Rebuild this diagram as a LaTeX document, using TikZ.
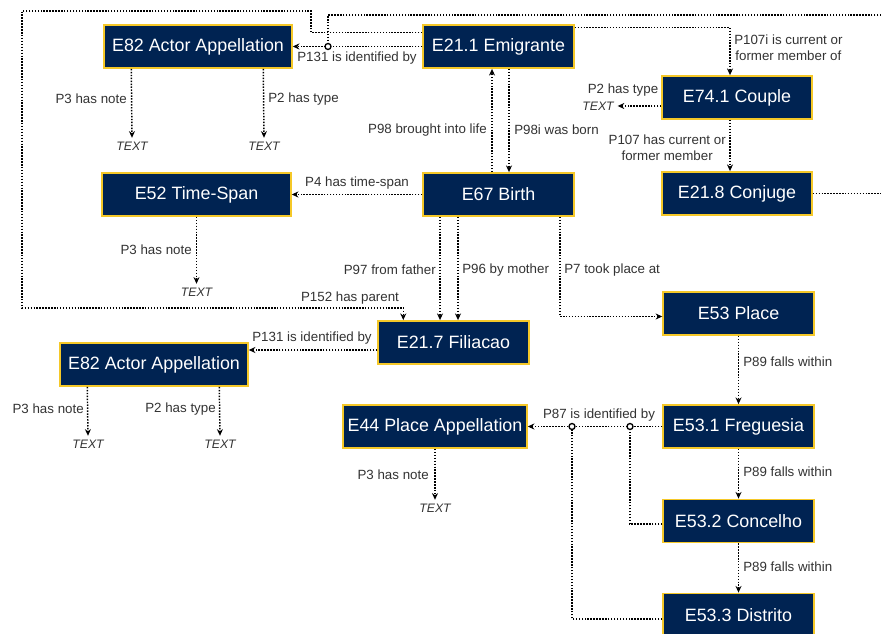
\documentclass[tikz,border=0pt]{standalone}
\usepackage{fontspec}
\setmainfont{Liberation Sans}
\usetikzlibrary{arrows.meta,calc}
\definecolor{navy}{RGB}{0,35,82}
\definecolor{gold}{RGB}{245,200,40}
\definecolor{lbl}{RGB}{51,51,51}
\begin{document}
\begin{tikzpicture}[x=0.75pt,y=-0.75pt,
  box/.style={draw=gold,fill=navy,text=white,line width=1.1pt,inner sep=0pt,minimum height=32.5pt,font=\fontsize{13.4}{15}\selectfont},
  rel/.style={line width=1.1pt,dash pattern=on 1.1pt off 1.1pt,-{Stealth[length=5pt,width=4.5pt]}},
  plainrel/.style={line width=1.1pt,dash pattern=on 1.1pt off 1.1pt},
  lab/.style={text=lbl,font=\fontsize{10}{12}\selectfont,inner sep=0pt},
  txt/.style={text=lbl,font=\itshape\fontsize{9.2}{11}\selectfont,inner sep=1pt,outer sep=2pt},
  junc/.style={circle,draw,fill=white,line width=1pt,inner sep=0pt,minimum size=4.5pt}]
\fill[white] (0,0) rectangle (881,634);
\useasboundingbox (0,0) rectangle (881,634);

% boxes
\node[box,minimum width=141pt] (a82t) at (198,46.5) {E82 Actor Appellation};
\node[box,minimum width=113.25pt] (emi) at (498.5,46.5) {E21.1 Emigrante};
\node[box,minimum width=112.5pt] (couple) at (737,97.5) {E74.1 Couple};
\node[box,minimum width=112.5pt] (conj) at (737,193.5) {E21.8 Conjuge};
\node[box,minimum width=113.25pt] (birth) at (498.5,194.5) {E67 Birth};
\node[box,minimum width=141.75pt] (ts) at (196.5,194.5) {E52 Time-Span};
\node[box,minimum width=113.25pt] (fil) at (453.5,342.5) {E21.7 Filiacao};
\node[box,minimum width=113.25pt] (place) at (738.5,313.5) {E53 Place};
\node[box,minimum width=141pt] (a82b) at (154,364.5) {E82 Actor Appellation};
\node[box,minimum width=138pt] (e44) at (435,426.5) {E44 Place Appellation};
\node[box,minimum width=113.25pt] (freg) at (738.5,426.5) {E53.1 Freguesia};
\node[box,minimum width=113.25pt] (conc) at (738.5,521) {E53.2 Concelho};
\node[box,minimum width=113.25pt] (dist) at (738.5,615) {E53.3 Distrito};

% literal values
\node[txt] (t1) at (132,146) {TEXT};
\node[txt] (t2) at (264,146) {TEXT};
\node[txt] (t3) at (598,106) {TEXT};
\node[txt] (t4) at (196.5,292) {TEXT};
\node[txt] (t5) at (88,444) {TEXT};
\node[txt] (t6) at (220,444) {TEXT};
\node[txt] (t7) at (435,508) {TEXT};

% junction points
\coordinate (j1) at (328,46.5);
\coordinate (j2) at (572,426.5);
\coordinate (j3) at (630,426.5);
\coordinate (pf) at ($(fil.west)+(0,7.5)$);

% connectors
\draw[rel] (emi.west) -- (a82t.east);
\draw[rel] ($(emi.north west)+(0,8.5)$) -| (311,11) -| (22,308) -| ($(fil.north west)+(26,0)$);
\draw[plainrel] (conj.east) -| (900,15) -| (j1);
\draw[rel] ($(emi.north east)+(0,3.5)$) -| ($(couple.north)+(-7,0)$);
\draw[rel] ($(couple.west)+(0,8.5)$) -- (t3.east);
\draw[rel] ($(couple.south)+(-7,0)$) -- ($(conj.north)+(-7,0)$);
\draw[rel] ($(birth.north)+(-6.5,0)$) -- ($(emi.south)+(-6.5,0)$);
\draw[rel] ($(emi.south)+(10.5,0)$) -- ($(birth.north)+(10.5,0)$);
\draw[rel] (birth.west) -- (ts.east);
\draw[rel] (ts.south) -- (t4.north);
\draw[rel] ($(birth.south)+(-58.5,0)$) -- ($(fil.north)+(-13.5,0)$);
\draw[rel] ($(birth.south)+(-40.5,0)$) -- ($(fil.north)+(4.5,0)$);
\draw[rel] ($(birth.south)+(61.5,0)$) |- ($(place.west)+(0,3)$);
\draw[rel] (place.south) -- (freg.north);
\draw[rel] (freg.south) -- (conc.north);
\draw[rel] (conc.south) -- (dist.north);
\draw[rel] (freg.west) -- (e44.east);
\draw[plainrel] ($(conc.west)+(0,3)$) -| (j3);
\draw[plainrel] ($(dist.west)+(0,4)$) -| (j2);
\draw[rel] (pf) -- (a82b.east |- pf);
\draw[rel] ($(a82t.south west)+(28,0)$) -- (t1.north);
\draw[rel] ($(a82t.south west)+(160,0)$) -- (t2.north);
\draw[rel] ($(a82b.south west)+(28,0)$) -- (t5.north);
\draw[rel] ($(a82b.south west)+(160,0)$) -- (t6.north);
\draw[rel] (e44.south) -- (t7.north);

\node[junc] (jn1) at (j1) {};
\node[junc] (jn2) at (j2) {};
\node[junc] (jn3) at (j3) {};

% labels
\node[lab,anchor=east] (l1) at (127,99) {P3 has note};
\node[lab,anchor=west] (l2) at (268,99) {P2 has type};
\node[lab] (l3) at (357,58) {P131 is identified by};
\node[lab,anchor=east] (l4) at (487,130) {P98 brought into life};
\node[lab,anchor=west] (l5) at (514,130) {P98i was born};
\node[lab] (l6) at (623,90) {P2 has type};
\node[lab,anchor=west,align=center] (l7) at (734,48) {P107i is current or\\former member of};
\node[lab,anchor=east,align=center] (l8) at (726,148) {P107 has current or\\former member};
\node[lab] (l9) at (357,183) {P4 has time-span};
\node[lab,anchor=east] (l10) at (192,250) {P3 has note};
\node[lab,anchor=east] (l11) at (436,270) {P97 from father};
\node[lab,anchor=west] (l12) at (462,270) {P96 by mother};
\node[lab,anchor=west] (l13) at (564,270) {P7 took place at};
\node[lab] (l14) at (350,298) {P152 has parent};
\node[lab] (l15) at (312,338) {P131 is identified by};
\node[lab,anchor=west] (l16) at (743,362) {P89 falls within};
\node[lab] (l17) at (599,415) {P87 is identified by};
\node[lab,anchor=east] (l18) at (84,409) {P3 has note};
\node[lab,anchor=east] (l19) at (216,409) {P2 has type};
\node[lab,anchor=east] (l20) at (429,475) {P3 has note};
\node[lab,anchor=west] (l21) at (743,472) {P89 falls within};
\node[lab,anchor=west] (l22) at (743,567) {P89 falls within};
\end{tikzpicture}
\end{document}
